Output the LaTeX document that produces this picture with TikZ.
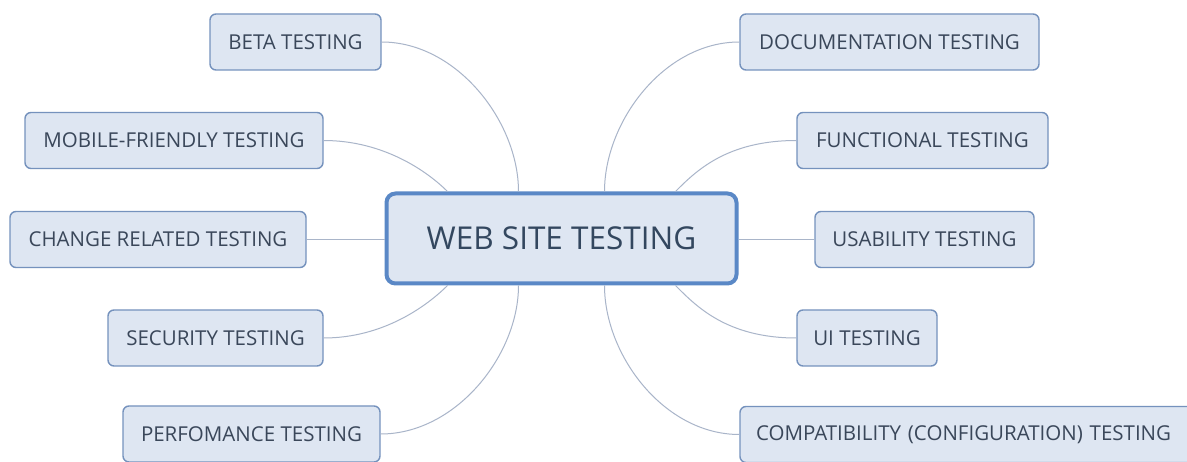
\documentclass[tikz,border=0pt]{standalone}
\usepackage{fontspec}
\setmainfont{Open Sans}
\definecolor{boxfill}{HTML}{DEE6F2}
\definecolor{boxedge}{HTML}{7592BD}
\definecolor{hubedge}{HTML}{5A88C6}
\definecolor{txt}{HTML}{3A475A}
\definecolor{hubtxt}{HTML}{33475F}
\definecolor{linkc}{HTML}{A9B5C9}
\tikzset{
  leaf/.style={draw=boxedge, line width=1.4pt, fill=boxfill, rounded corners=6pt,
    text=txt, font=\fontsize{20.5}{24}\selectfont, inner sep=0pt, minimum height=56pt},
  hub/.style={draw=hubedge, line width=4pt, fill=boxfill, rounded corners=9pt,
    text=hubtxt, font=\fontsize{31.5}{36}\selectfont, inner sep=0pt,
    minimum width=350pt, minimum height=90pt},
  link/.style={draw=linkc, line width=1pt}
}
\begin{document}
\begin{tikzpicture}[x=1pt,y=-1pt]
\useasboundingbox (0,0) rectangle (1187,462);
\fill[white] (0,0) rectangle (1187,462);

% central topic
\node[hub] (ctr) at (561.5,238.5) {WEB SITE TESTING};

% left branches
\node[leaf, minimum width=171pt] (beta) at (295.5,42) {BETA TESTING};
\node[leaf, minimum width=298pt] (mob) at (174,140.5) {MOBILE-FRIENDLY TESTING};
\node[leaf, minimum width=296pt] (chg) at (158,239.5) {CHANGE RELATED TESTING};
\node[leaf, minimum width=215pt] (sec) at (215.5,338) {SECURITY TESTING};
\node[leaf, minimum width=257pt] (perf) at (251.5,434) {PERFOMANCE TESTING};

% right branches
\node[leaf, minimum width=299pt] (doc) at (889.5,42) {DOCUMENTATION TESTING};
\node[leaf, minimum width=251pt] (fun) at (922.5,140.5) {FUNCTIONAL TESTING};
\node[leaf, minimum width=219pt] (usa) at (924.5,239.5) {USABILITY TESTING};
\node[leaf, minimum width=140pt] (ui) at (867,338) {UI TESTING};
\node[leaf, minimum width=470pt, text width=470pt, align=left] (cmp) at (975,434.5)
  {\hspace*{16pt}COMPATIBILITY (CONFIGURATION) TESTING};

% connectors: leaves to the central topic
\draw[link] (beta.east) .. controls +(75,0) and +(0,-70) .. ([xshift=134pt]ctr.north west);
\draw[link] (mob.east) .. controls +(60,0) and +(-20,-20) .. ([xshift=63pt]ctr.north west);
\draw[link] (chg.east) -- (chg.east -| ctr.west);
\draw[link] (sec.east) .. controls +(60,0) and +(-20,20) .. ([xshift=63pt]ctr.south west);
\draw[link] (perf.east) .. controls +(75,0) and +(0,70) .. ([xshift=134pt]ctr.south west);

\draw[link] (doc.west) .. controls +(-75,0) and +(0,-70) .. ([xshift=-134pt]ctr.north east);
\draw[link] (fun.west) .. controls +(-70,0) and +(20,-20) .. ([xshift=-63pt]ctr.north east);
\draw[link] (usa.west) -- (usa.west -| ctr.east);
\draw[link] (ui.west) .. controls +(-70,0) and +(20,20) .. ([xshift=-63pt]ctr.south east);
\draw[link] (cmp.west) .. controls +(-75,0) and +(0,70) .. ([xshift=-134pt]ctr.south east);
\end{tikzpicture}
\end{document}
